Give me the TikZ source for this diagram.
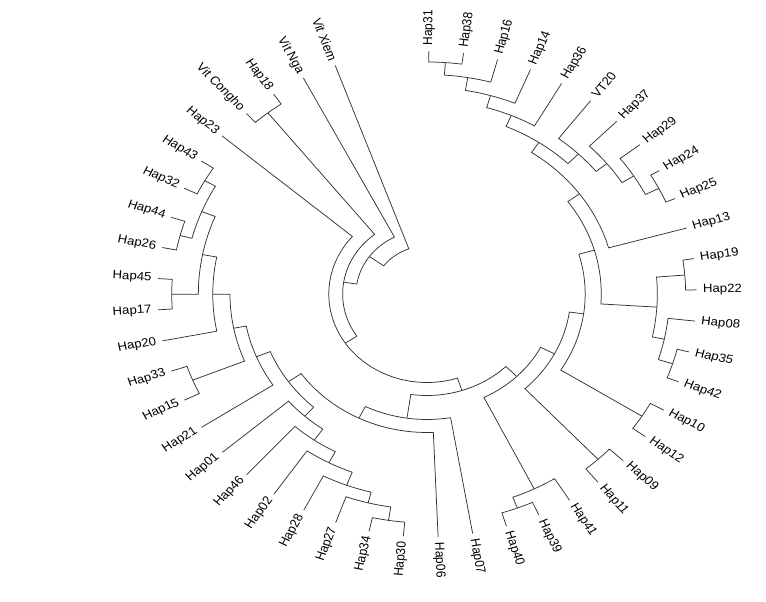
\documentclass[tikz,border=0pt]{standalone}
\usepackage{fontspec}
\setmainfont{Liberation Sans}
\newcommand\Rt{243}
\newcommand\Rl{247}
% bracket: node radius, child1 angle, child1 radius, child2 angle, child2 radius
\newcommand\br[5]{\draw[branch] (#2:#3) -- (#2:#1) arc[start angle=#2, end angle=#4, radius=#1] -- (#4:#5);}
\newcommand\tipr[3]{\node[tipR, rotate=#2] (#1) at (#2:\Rl) {#3};}
\newcommand\tipl[3]{\node[tipL, rotate=#2+180] (#1) at (#2:\Rl) {#3};}
\begin{document}
\begin{tikzpicture}[x=1pt,y=1pt,
  branch/.style={draw=black!80, line width=0.75pt},
  tiplab/.style={inner sep=1.5pt, font=\fontsize{11.9}{13}\selectfont, transform shape},
  tipR/.style={tiplab, anchor=west},
  tipL/.style={tiplab, anchor=east}]
\useasboundingbox (0,0) rectangle (766,602);
\begin{scope}[shift={(427,308)}, xscale=1.11]
% ---- upper right clade
\br{232}{89.6}{\Rt}{82.215}{\Rt}
\br{219.5}{85.9075}{232}{74.83}{\Rt}
\br{206.5}{80.369}{219.5}{67.445}{\Rt}
\br{194}{73.907}{206.5}{60.06}{\Rt}
\br{234}{30.52}{\Rt}{23.135}{\Rt}
\br{220.5}{37.905}{\Rt}{26.8275}{234}
\br{208}{45.29}{\Rt}{32.366}{220.5}
\br{195.5}{52.675}{\Rt}{38.828}{208}
\br{182}{66.98}{194}{45.75}{195.5}
\br{170}{56.365}{182}{15.75}{\Rt}
% ---- right clade
\br{233}{8.365}{\Rt}{0.98}{\Rt}
\br{232}{-13.79}{\Rt}{-21.175}{\Rt}
\br{218.5}{-6.405}{\Rt}{-17.4825}{232}
\br{207.5}{4.6725}{233}{-11.944}{218.5}
\br{157}{36.06}{170}{-3.636}{207.5}
\br{229}{-28.56}{\Rt}{-35.945}{\Rt}
\br{142.5}{16.212}{157}{-32.2525}{229}
\br{226}{-43.33}{\Rt}{-50.715}{\Rt}
\br{129.5}{-8.02}{142.5}{-47.0225}{226}
\br{229}{-65.485}{\Rt}{-72.87}{\Rt}
\br{217.5}{-58.1}{\Rt}{-69.1775}{229}
\br{115.5}{-27.521}{129.5}{-63.639}{217.5}
% ---- bottom clade
\br{229}{-95.025}{\Rt}{-102.41}{\Rt}
\br{215.5}{-98.7175}{229}{-109.795}{\Rt}
\br{204.5}{-104.256}{215.5}{-117.18}{\Rt}
\br{190.5}{-110.718}{204.5}{-124.565}{\Rt}
\br{178}{-117.642}{190.5}{-131.95}{\Rt}
\br{164.5}{-124.796}{178}{-139.335}{\Rt}
% ---- left clade
\br{230}{-205.8}{\Rt}{-213.185}{\Rt}
\br{230}{-191.03}{\Rt}{-198.415}{\Rt}
\br{219}{-194.7225}{230}{-209.4925}{230}
\br{230}{-176.26}{\Rt}{-183.645}{\Rt}
\br{206}{-179.9525}{230}{-202.1075}{219}
\br{193}{-168.875}{\Rt}{-191.03}{206}
\br{228}{-154.105}{\Rt}{-161.49}{\Rt}
\br{177.5}{-157.7975}{228}{-179.9525}{193}
\br{166}{-146.72}{\Rt}{-168.875}{177.5}
\br{152.5}{-132.066}{164.5}{-157.7975}{166}
% ---- deep nodes
\br{138.5}{-87.64}{\Rt}{-144.932}{152.5}
\br{125.5}{-80.255}{\Rt}{-116.286}{138.5}
\br{101.5}{-45.58}{115.5}{-98.27}{125.5}
\br{88.5}{-71.925}{101.5}{-220.57}{\Rt}
\br{231}{-227.955}{\Rt}{-235.34}{\Rt}
\br{76}{-146.2475}{88.5}{-231.6475}{231}
\br{64}{-188.9475}{76}{-242.725}{\Rt}
\br{48}{-215.836}{64}{-250.11}{\Rt}
% ---- tip labels
\tipr{t31}{89.6}{Hap31}
\tipr{t38}{82.215}{Hap38}
\tipr{t16}{74.83}{Hap16}
\tipr{t14}{67.445}{Hap14}
\tipr{t36}{60.06}{Hap36}
\tipr{tVT}{52.675}{VT20}
\tipr{t37}{45.29}{Hap37}
\tipr{t29}{37.905}{Hap29}
\tipr{t24}{30.52}{Hap24}
\tipr{t25}{23.135}{Hap25}
\tipr{t13}{15.75}{Hap13}
\tipr{t19}{8.365}{Hap19}
\tipr{t22}{0.98}{Hap22}
\tipr{t08}{-6.405}{Hap08}
\tipr{t35}{-13.79}{Hap35}
\tipr{t42}{-21.175}{Hap42}
\tipr{t10}{-28.56}{Hap10}
\tipr{t12}{-35.945}{Hap12}
\tipr{t09}{-43.33}{Hap09}
\tipr{t11}{-50.715}{Hap11}
\tipr{t41}{-58.1}{Hap41}
\tipr{t39}{-65.485}{Hap39}
\tipr{t40}{-72.87}{Hap40}
\tipr{t07}{-80.255}{Hap07}
\tipr{t06}{-87.64}{Hap06}
\tipl{t30}{-95.025}{Hap30}
\tipl{t34}{-102.41}{Hap34}
\tipl{t27}{-109.795}{Hap27}
\tipl{t28}{-117.18}{Hap28}
\tipl{t02}{-124.565}{Hap02}
\tipl{t46}{-131.95}{Hap46}
\tipl{t01}{-139.335}{Hap01}
\tipl{t21}{-146.72}{Hap21}
\tipl{t15}{-154.105}{Hap15}
\tipl{t33}{-161.49}{Hap33}
\tipl{t20}{-168.875}{Hap20}
\tipl{t17}{-176.26}{Hap17}
\tipl{t45}{-183.645}{Hap45}
\tipl{t26}{-191.03}{Hap26}
\tipl{t44}{-198.415}{Hap44}
\tipl{t32}{-205.8}{Hap32}
\tipl{t43}{-213.185}{Hap43}
\tipl{t23}{-220.57}{Hap23}
\tipl{tVC}{-227.955}{Vit Congho}
\tipl{t18}{-235.34}{Hap18}
\tipl{tVN}{-242.725}{Vit Nga}
\tipl{tVX}{-250.11}{Vit Xiem}
\end{scope}
\end{tikzpicture}
\end{document}
